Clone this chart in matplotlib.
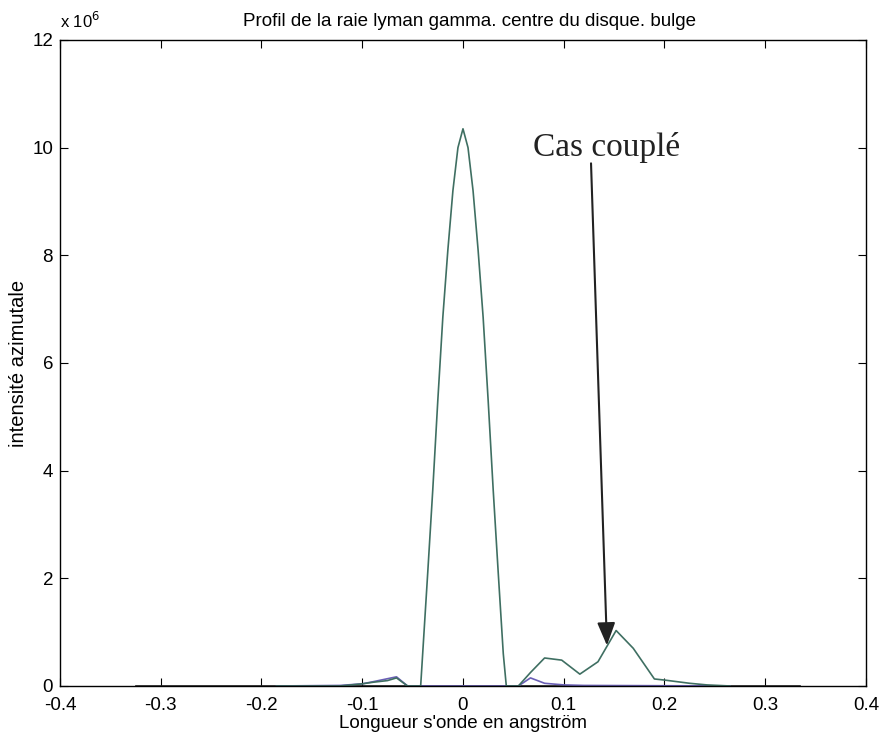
import matplotlib.pyplot as plt

# Spectral profile values (intensity in units of 1e6)
green_x = [-0.185, -0.122, -0.1, -0.089, -0.075, -0.066, -0.055, -0.042,
           -0.04, -0.035, -0.03, -0.025, -0.02, -0.015, -0.01, -0.005, 0.0,
           0.005, 0.01, 0.015, 0.02, 0.025, 0.03, 0.035, 0.04, 0.043,
           0.055, 0.067, 0.081, 0.098, 0.116, 0.134, 0.152, 0.169, 0.19,
           0.2, 0.225, 0.242, 0.265]
green_y = [0.0, 0.0, 0.04, 0.07, 0.1, 0.15, 0.0, 0.0,
           0.6, 2.1, 3.64, 5.3, 6.85, 8.1, 9.2, 10.0, 10.35,
           10.0, 9.2, 8.1, 6.85, 5.3, 3.64, 2.1, 0.6, 0.0,
           0.0, 0.25, 0.52, 0.48, 0.22, 0.45, 1.03, 0.7, 0.13,
           0.11, 0.05, 0.02, 0.0]

purple_x = [-0.185, -0.122, -0.1, -0.089, -0.066, -0.055, 0.055, 0.067,
            0.081, 0.1, 0.12, 0.265]
purple_y = [0.0, 0.01, 0.04, 0.08, 0.17, 0.0, 0.0, 0.15,
            0.05, 0.02, 0.01, 0.0]

base_x = [-0.325, 0.335]
base_y = [0.0, 0.0]

xticks = [-0.4, -0.3, -0.2, -0.1, 0, 0.1, 0.2, 0.3, 0.4]
xticklabels = ['-0.4', '-0.3', '-0.2', '-0.1', '0', '0.1', '0.2', '0.3', '0.4']
yticks = [0, 2, 4, 6, 8, 10, 12]

plt.rcParams['font.family'] = ['Liberation Sans', 'DejaVu Sans']

fig = plt.figure(figsize=(8.86, 7.4), dpi=100)
ax = fig.add_axes([0.0677, 0.073, 0.9097, 0.873])

ax.plot(base_x, base_y, color='#222222', linewidth=1.2)
ax.plot(purple_x, purple_y, color='#6a5fb5', linewidth=1.2)
ax.plot(green_x, green_y, color='#3f6f62', linewidth=1.2)

ax.set_xlim(-0.4, 0.4)
ax.set_ylim(0, 12)
ax.set_xticks(xticks)
ax.set_xticklabels(xticklabels)
ax.set_yticks(yticks)
ax.tick_params(direction='in', top=True, right=True, length=6, labelsize=13.5)
ax.tick_params(axis='x', pad=8)
ax.tick_params(axis='y', pad=5)
for s in ax.spines.values():
    s.set_linewidth(1.0)

ax.set_title('Profil de la raie lyman gamma. centre du disque. bulge',
             fontsize=13.5, pad=10, x=0.508)
ax.set_xlabel("Longueur s'onde en angström", fontsize=13.5, labelpad=1)
ax.set_ylabel('intensité azimutale', fontsize=14.5, labelpad=3)
ax.text(0.0, 1.014, r'x 10$^6$', transform=ax.transAxes, fontsize=12,
        ha='left', va='bottom')

# annotation for the coupled case
ax.annotate('', xy=(0.143, 0.70), xytext=(0.127, 9.76),
            arrowprops=dict(arrowstyle='-|>,head_length=1.4,head_width=0.55',
                            color='#222222', linewidth=1.5))
ax.text(0.143, 9.85, 'Cas couplé', family='Liberation Serif', fontsize=24,
        ha='center', va='baseline', color='#222222')

plt.savefig('out.png', dpi=100)
